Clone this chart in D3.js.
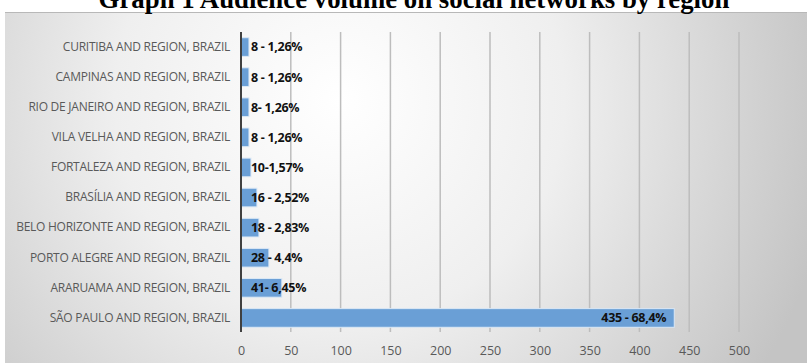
<!DOCTYPE html>
<html>
<head>
<meta charset="utf-8">
<script src="https://cdn.jsdelivr.net/npm/d3@7"></script>
<style>
  body { margin: 0; background: #fff; }
  svg { display: block; }
</style>
</head>
<body>
<div id="chart"></div>
<script>
var svgWidth = 807;
var svgHeight = 363;

// data
var regions = [
  'CURITIBA AND REGION, BRAZIL',
  'CAMPINAS AND REGION, BRAZIL',
  'RIO DE JANEIRO AND REGION, BRAZIL',
  'VILA VELHA AND REGION, BRAZIL',
  'FORTALEZA AND REGION, BRAZIL',
  'BRASÍLIA AND REGION, BRAZIL',
  'BELO HORIZONTE AND REGION, BRAZIL',
  'PORTO ALEGRE AND REGION, BRAZIL',
  'ARARUAMA AND REGION, BRAZIL',
  'SÃO PAULO AND REGION, BRAZIL'
];
var audience = [8, 8, 8, 8, 10, 16, 18, 28, 41, 435];
var barLabels = ['8 - 1,26%', '8 - 1,26%', '8- 1,26%', '8 - 1,26%', '10-1,57%',
  '16 - 2,52%', '18 - 2,83%', '28 - 4,4%', '41- 6,45%', '435 - 68,4%'];
var xTicks = [0, 50, 100, 150, 200, 250, 300, 350, 400, 450, 500];

var margin = { top: 32, right: 68, bottom: 30, left: 241 };

var svg = d3.select('#chart').append('svg')
  .attr('width', svgWidth)
  .attr('height', svgHeight);

// panel gradient like the excel chart style
var defs = svg.append('defs');
var grad = defs.append('radialGradient')
  .attr('id', 'bg')
  .attr('gradientUnits', 'userSpaceOnUse')
  .attr('cx', 340).attr('cy', 100).attr('r', 500);
grad.append('stop').attr('offset', '0%').attr('stop-color', '#ffffff');
grad.append('stop').attr('offset', '45%').attr('stop-color', '#efefef');
grad.append('stop').attr('offset', '100%').attr('stop-color', '#c4c4c4');

svg.append('rect')
  .attr('x', 5).attr('y', 12)
  .attr('width', svgWidth - 5).attr('height', svgHeight - 12)
  .attr('fill', 'url(#bg)');
svg.append('line')
  .attr('x1', 5).attr('x2', svgWidth)
  .attr('y1', 12.5).attr('y2', 12.5)
  .attr('stroke', '#b8b8b8');

// title (cut at the top in the source)
svg.append('text')
  .attr('x', 414)
  .attr('y', 8)
  .attr('text-anchor', 'middle')
  .style('font-family', '"Liberation Serif", "Times New Roman", serif')
  .style('font-weight', 'bold')
  .style('font-size', '26.8px')
  .text('Graph 1 Audience volume on social networks by region');

var chartGroup = svg.append('g')
  .attr('transform', `translate(${margin.left}, ${margin.top})`);

var xScale = d3.scaleLinear()
  .domain([0, 500])
  .range([0, 498]);

var yScale = d3.scaleBand()
  .domain(regions)
  .range([0, 301])
  .paddingInner(0.38)
  .paddingOuter(0.19);

// gridlines
chartGroup.selectAll('.grid')
  .data(xTicks.slice(1))
  .enter()
  .append('line')
  .attr('x1', d => xScale(d))
  .attr('x2', d => xScale(d))
  .attr('y1', 0)
  .attr('y2', 300)
  .attr('stroke', '#bdbdbd')
  .attr('stroke-width', 1.5);

// bars
chartGroup.selectAll('.bar')
  .data(audience)
  .enter()
  .append('rect')
  .attr('x', 0)
  .attr('y', (d, i) => yScale(regions[i]))
  .attr('width', d => xScale(d))
  .attr('height', yScale.bandwidth())
  .attr('fill', '#6a9fd6')
  .attr('stroke', '#dbe8f5')
  .attr('stroke-width', 1);

// bar labels
chartGroup.selectAll('.barlabel')
  .data(audience)
  .enter()
  .append('text')
  .attr('x', (d, i) => i === audience.length - 1 ? xScale(d) - 8 : 10)
  .attr('y', (d, i) => yScale(regions[i]) + yScale.bandwidth() / 2)
  .attr('dy', '0.35em')
  .attr('text-anchor', (d, i) => i === audience.length - 1 ? 'end' : 'start')
  .style('font-family', '"Open Sans", sans-serif')
  .style('font-weight', 'bold')
  .style('font-size', '12.5px')
  .style('letter-spacing', '-0.3px')
  .attr('fill', '#111')
  .text((d, i) => barLabels[i]);

// y axis
var leftAxis = d3.axisLeft(yScale).tickSize(0).tickPadding(11);
var yAxis = chartGroup.append('g').call(leftAxis);
yAxis.select('.domain').remove();
yAxis.selectAll('text')
  .style('font-family', '"Open Sans", sans-serif')
  .style('font-size', '12px')
  .style('letter-spacing', '-0.25px')
  .attr('fill', '#595959');

chartGroup.append('line')
  .attr('x1', 0).attr('x2', 0)
  .attr('y1', 0).attr('y2', 300)
  .attr('stroke', '#404040')
  .attr('stroke-width', 2);

// x axis labels
var bottomAxis = d3.axisBottom(xScale).tickValues(xTicks).tickSize(0).tickPadding(14);
var xAxis = chartGroup.append('g')
  .attr('transform', `translate(0, ${300})`)
  .call(bottomAxis);
xAxis.select('.domain').remove();
xAxis.selectAll('text')
  .style('font-family', '"Open Sans", sans-serif')
  .style('font-size', '12.5px')
  .attr('fill', '#595959');
</script>
</body>
</html>
